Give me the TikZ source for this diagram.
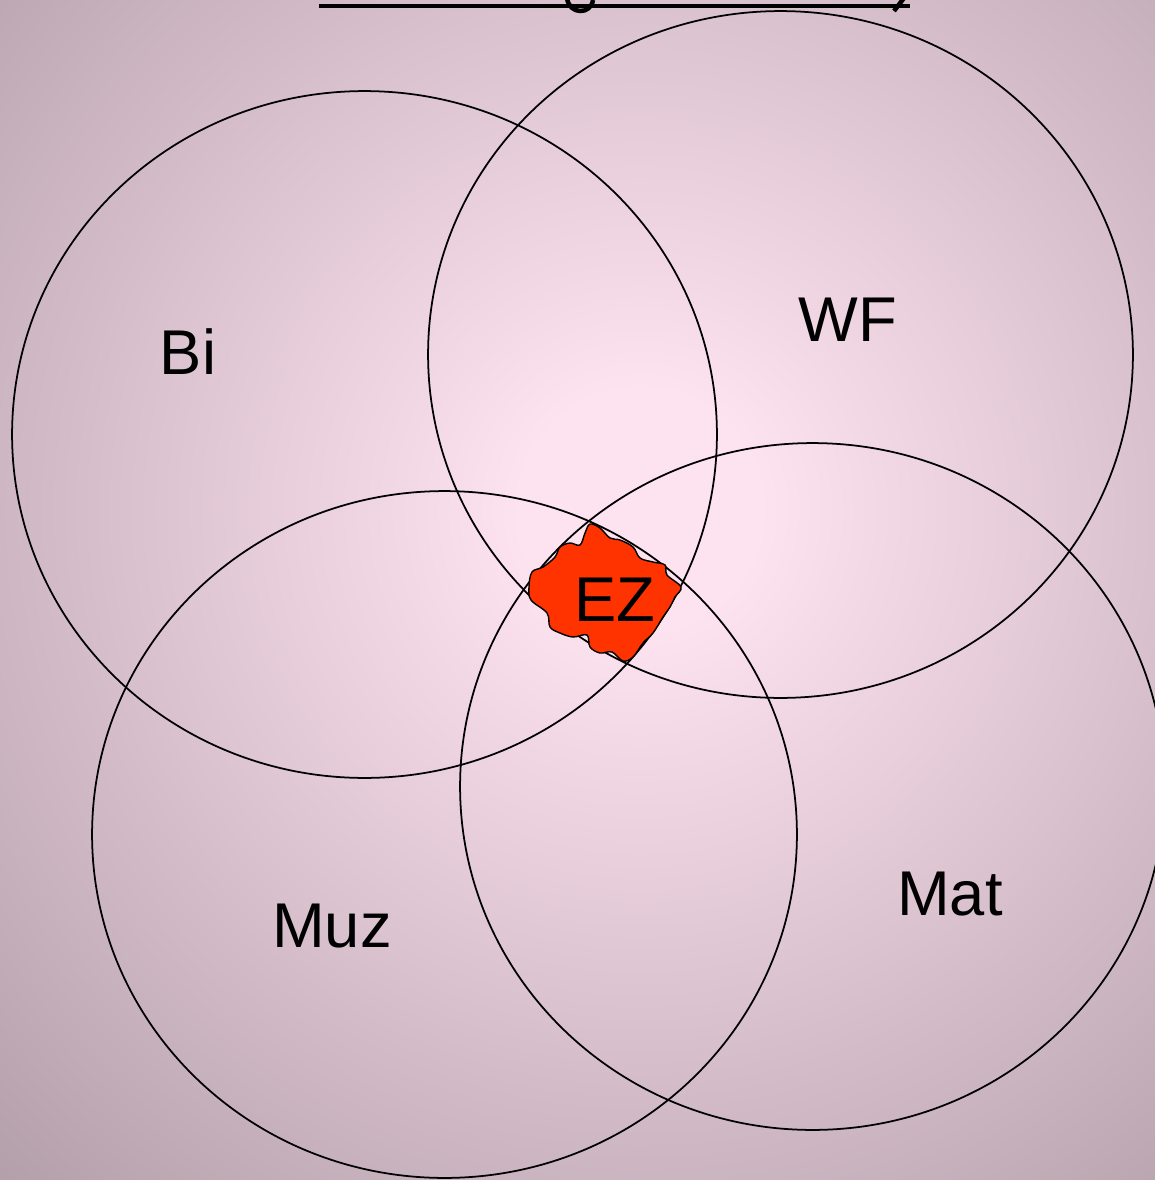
\documentclass[tikz,border=0pt]{standalone}
\usepackage{fontspec}
\setmainfont{Liberation Sans}
\usetikzlibrary{shapes.geometric}
\definecolor{bgin}{RGB}{253,226,239}
\definecolor{bgout}{RGB}{180,160,170}
\definecolor{ezred}{RGB}{255,51,0}
\pgfdeclareradialshading{bgshade}{\pgfpoint{0bp}{0bp}}{color(0bp)=(bgin); color(3bp)=(bgin); color(23bp)=(bgout); color(25bp)=(bgout); color(50bp)=(bgout)}
\begin{document}
\begin{tikzpicture}[x=0.02cm,y=-0.02cm,
 ring/.style={ellipse, draw=black, line width=1pt, minimum width=14.1cm, minimum height=13.74cm, inner sep=0pt},
 lbl/.style={font=\fontsize{36}{40}\selectfont, text=black, inner sep=0pt},
 blob/.style={fill=ezred, draw=black, line width=0.8pt},
 title/.style={line width=0.09cm, black}]
\useasboundingbox (0,0) rectangle (1155,1180);
\begin{scope}
\clip (0,0) rectangle (1155,1180);
\fill[bgout] (0,0) rectangle (1155,1180);
\shade[shading=bgshade] (640,510) circle (20cm);
% cut-off title: underline and descenders
\draw[title] (319,6) -- (910,6);
\draw[title] (567,-2) .. controls (569,15) and (591,15) .. (593,0);
\draw[title] (904,-2) -- (894,11);
\end{scope}
% circles
\node[ring] (bi) at (364.5,434.5) {};
\node[ring] (wf) at (780.5,354.5) {};
\node[ring] (muz) at (444.5,834.5) {};
\node[ring] (mat) at (812.5,786.5) {};
% EZ blob
\draw[blob] plot[smooth cycle, tension=0.6] coordinates {
(590,524) (600,528) (610,538) (620,540) (633,547) (640,558) (653,562) (665,565)
(667,575) (681,587) (675,597) (670,607) (663,617) (653,633) (643,643) (633,657)
(623,661) (612,652) (600,653) (590,647) (587,635) (573,637) (560,633) (550,627)
(547,613) (531,600) (529,587) (532,572) (543,567) (555,557) (560,547) (570,543)
(580,545) (585,533)};
% labels
\node[lbl] (bil) at (188,352) {Bi};
\node[lbl] (wfl) at (848,320) {WF};
\node[lbl] (muzl) at (332,926) {Muz};
\node[lbl] (matl) at (950,894) {Mat};
\node[lbl] (ezl) at (615,600) {EZ};
\end{tikzpicture}
\end{document}
